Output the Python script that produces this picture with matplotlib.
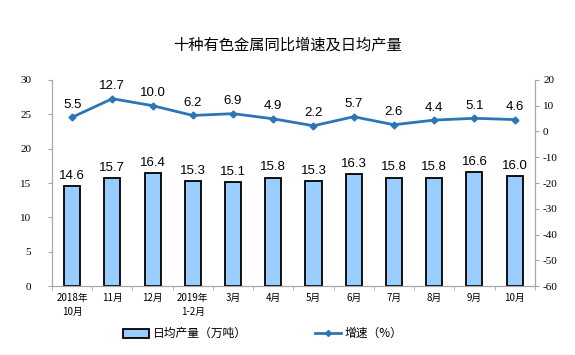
import numpy as np
import matplotlib
matplotlib.use("Agg")
import matplotlib.pyplot as plt
from matplotlib.patches import Patch
from matplotlib.lines import Line2D

plt.rcParams['font.family'] = ['Noto Sans CJK SC', 'DejaVu Sans']

months = ["2018年\n10月", "11月", "12月", "2019年\n1-2月", "3月", "4月",
          "5月", "6月", "7月", "8月", "9月", "10月"]
output = [14.6, 15.7, 16.4, 15.3, 15.1, 15.8, 15.3, 16.3, 15.8, 15.8, 16.6, 16.0]
growth = [5.5, 12.7, 10.0, 6.2, 6.9, 4.9, 2.2, 5.7, 2.6, 4.4, 5.1, 4.6]
left_ticks = list(range(0, 31, 5))
right_ticks = list(range(-60, 21, 10))

bar_color = "#99ccff"
line_color = "#2e75b6"
spine_color = "#a6a6a6"

fig = plt.figure(figsize=(5.75, 3.55), dpi=100)
ax = fig.add_axes([0.0904, 0.194, 0.8396, 0.581])
ax2 = ax.twinx()

x = np.arange(len(months))
ax.bar(x, output, width=0.4, color=bar_color, edgecolor="black", linewidth=1.3, zorder=2)
for xi, v in zip(x, output):
    ax.text(xi, v + 0.6, f"{v:.1f}", ha="center", va="bottom", fontsize=9.5,
            family="Liberation Sans")

ax2.plot(x, growth, color=line_color, linewidth=2, marker="D", markersize=3.5, zorder=3)
for xi, v in zip(x, growth):
    ax2.text(xi, v + 2.5, f"{v:.1f}", ha="center", va="bottom", fontsize=9.5,
             family="Liberation Sans")

ax.set_xlim(-0.5, len(months) - 0.5)
ax.set_ylim(0, 30)
ax.set_yticks(left_ticks)
ax.set_yticklabels([str(t) for t in left_ticks], family="Liberation Serif", fontsize=8)
ax2.set_ylim(-60, 20)
ax2.set_yticks(right_ticks)
ax2.set_yticklabels([str(t) for t in right_ticks], family="Liberation Serif", fontsize=8)

ax.set_xticks(x)
ax.set_xticklabels(months, fontsize=7, linespacing=1.5)
ax.set_xticks(np.arange(-0.5, len(months), 1), minor=True)
ax.tick_params(axis="x", which="major", length=0, pad=5)
ax.tick_params(axis="x", which="minor", length=3, color=spine_color)

for a in (ax, ax2):
    a.spines["top"].set_visible(False)
    for s in ("left", "right", "bottom"):
        a.spines[s].set_color(spine_color)
    a.tick_params(axis="y", length=3, color=spine_color)
ax.tick_params(axis="y", pad=12)
ax2.tick_params(axis="y", pad=3)

fig.text(0.5, 0.873, "十种有色金属同比增速及日均产量", ha="center", va="center", fontsize=11)

handles = [Patch(facecolor=bar_color, edgecolor="black", linewidth=1.3),
           Line2D([0], [0], color=line_color, linewidth=2, marker="D", markersize=3)]
fig.legend(handles, ["日均产量（万吨）", "增速（%）"], loc="center",
           bbox_to_anchor=(0.457, 0.06), ncol=2, frameon=False, fontsize=8.5,
           columnspacing=5.8, handlelength=2.2, handleheight=0.8, handletextpad=0.3)

fig.savefig("out.png", dpi=100)
